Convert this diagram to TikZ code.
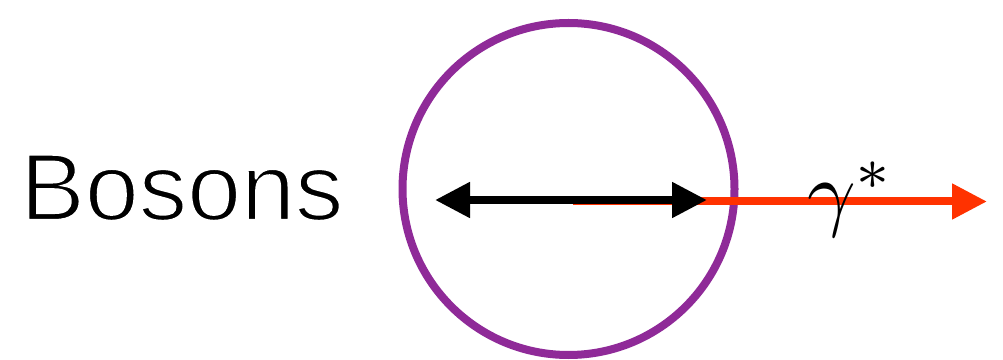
\documentclass[tikz,border=0pt]{standalone}
\usepackage{fontspec}
\setmainfont{Liberation Sans}
\usetikzlibrary{arrows.meta}
\definecolor{ringpurple}{HTML}{8F2A98}
\definecolor{photonred}{HTML}{FF3200}
\newcommand{\thinned}[1]{\special{pdf:literal direct 2 Tr 2.2 w 1 G}#1\special{pdf:literal direct 0 Tr 0 G}}
\begin{document}
\begin{tikzpicture}[x=1pt,y=1pt,
  ring/.style={draw=ringpurple,line width=8pt},
  photon/.style={draw=photonred,line width=8pt,-{Triangle[length=35pt,width=34pt]}},
  twoway/.style={draw=black,line width=8pt,{Triangle[length=35pt,width=34pt]}-{Triangle[length=35pt,width=34pt]}}]
\useasboundingbox (0,0) rectangle (1003,359);
\node[circle,ring,minimum size=332pt,inner sep=0pt] (blob) at (568.5,170) {};
\node[anchor=base west,inner sep=0pt,font=\fontsize{95}{100}\selectfont] (label) at (20,139) {\scalebox{1.02}[1]{\thinned{Bosons}}};
\coordinate (rs) at (573,157.5);
\coordinate (re) at (987,157.5);
\coordinate (al) at (435,159);
\coordinate (ar) at (707,159);
\draw[photon] (rs) -- (re);
\draw[twoway] (al) -- (ar);
\node[anchor=base west,inner sep=0pt] (gam) at (807,139) {\scalebox{8.5}{$\gamma^*$}};
\end{tikzpicture}
\end{document}
